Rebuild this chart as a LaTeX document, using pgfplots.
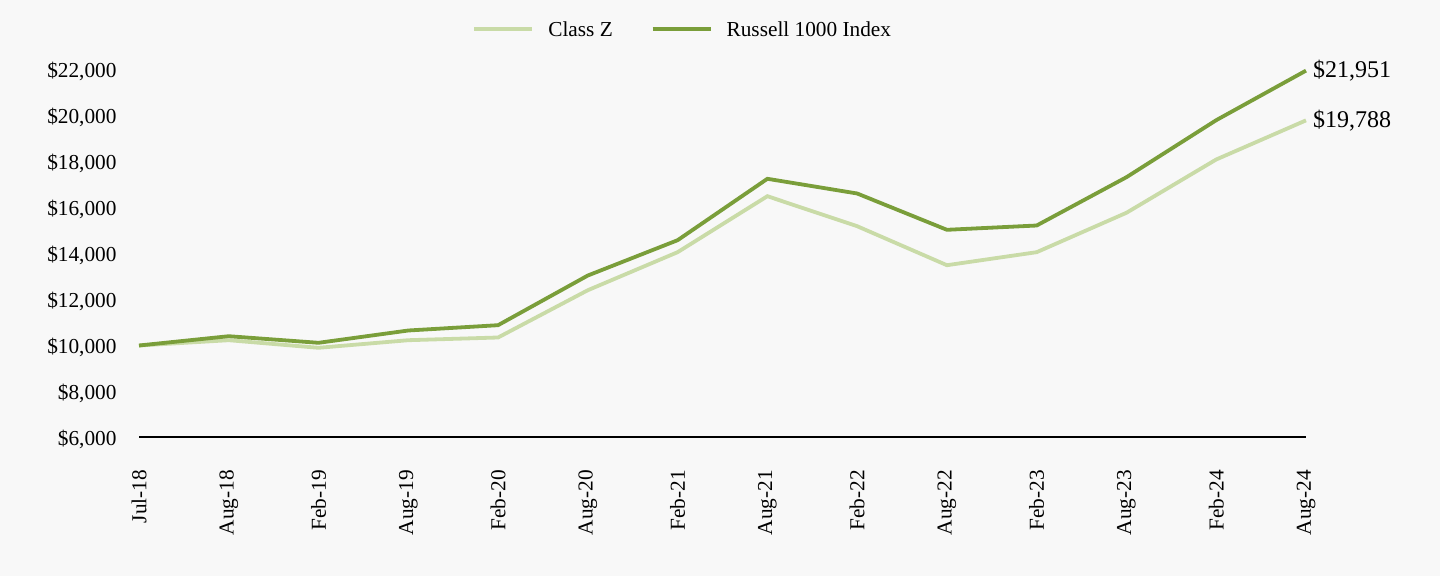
\documentclass[border=0pt]{standalone}
\usepackage{pgfplots}
\pgfplotsset{compat=1.18}
\usepackage{fontspec}
\setmainfont{Liberation Serif}
\definecolor{bg}{HTML}{F8F8F8}
\definecolor{lightg}{HTML}{C9DBA7}
\definecolor{darkg}{HTML}{7A9E3A}
\begin{document}
\begin{tikzpicture}
\fill[bg] (0,0) rectangle (1440bp,576bp);
\begin{axis}[
  at={(139bp,138.5bp)}, anchor=south west,
  scale only axis, width=1167bp, height=368bp,
  xmin=0, xmax=13, ymin=6000, ymax=22000,
  axis x line*=bottom, axis y line*=left,
  x axis line style={black, line width=2bp, -},
  y axis line style={draw=none},
  major tick length=0pt,
  scaled ticks=false,
  xtick={0,...,13},
  xticklabels={Jul-18,Aug-18,Feb-19,Aug-19,Feb-20,Aug-20,Feb-21,Aug-21,Feb-22,Aug-22,Feb-23,Aug-23,Feb-24,Aug-24},
  xticklabel style={rotate=90, anchor=east, font=\fontsize{21.3bp}{23bp}\selectfont},
  xticklabel shift=29bp,
  ytick={6000,8000,...,22000},
  yticklabel={\$\pgfmathprintnumber{\tick}},
  yticklabel style={anchor=east, yshift=-2bp, font=\fontsize{21.3bp}{23bp}\selectfont},
  yticklabel shift=19bp,
  /pgf/number format/.cd, fixed, precision=0, 1000 sep={,}, assume math mode=true,
  /pgfplots/.cd,
  clip=false,
  legend style={at={(0.466,1.109)}, anchor=center, draw=none, fill=none,
    legend columns=2, font=\fontsize{21.3bp}{23bp}\selectfont,
    /tikz/every odd column/.append style={column sep=12bp},
    /tikz/every even column/.append style={column sep=36bp}},
  legend image code/.code={\draw[#1] (0bp,0bp) -- (58bp,0bp);},
]
\addplot[lightg, line width=3.8bp] coordinates {
(0,10000) (1,10230) (2,9900) (3,10230) (4,10348) (5,12404) (6,14057) (7,16491)
(8,15187) (9,13491) (10,14057) (11,15770) (12,18087) (13,19788)};
\addlegendentry{Class Z}
\addplot[darkg, line width=3.8bp] coordinates {
(0,10000) (1,10404) (2,10117) (3,10652) (4,10883) (5,13043) (6,14578) (7,17248)
(8,16609) (9,15030) (10,15217) (11,17317) (12,19796) (13,21951)};
\addlegendentry{Russell 1000 Index}
\node[anchor=west, font=\fontsize{24bp}{26bp}\selectfont, inner sep=0pt, xshift=7bp] at (axis cs:13,21951) {\$21,951};
\node[anchor=west, font=\fontsize{24bp}{26bp}\selectfont, inner sep=0pt, xshift=7bp] at (axis cs:13,19788) {\$19,788};
\end{axis}
\pgfresetboundingbox
\path (0,0) rectangle (1440bp,576bp);
\end{tikzpicture}
\end{document}
